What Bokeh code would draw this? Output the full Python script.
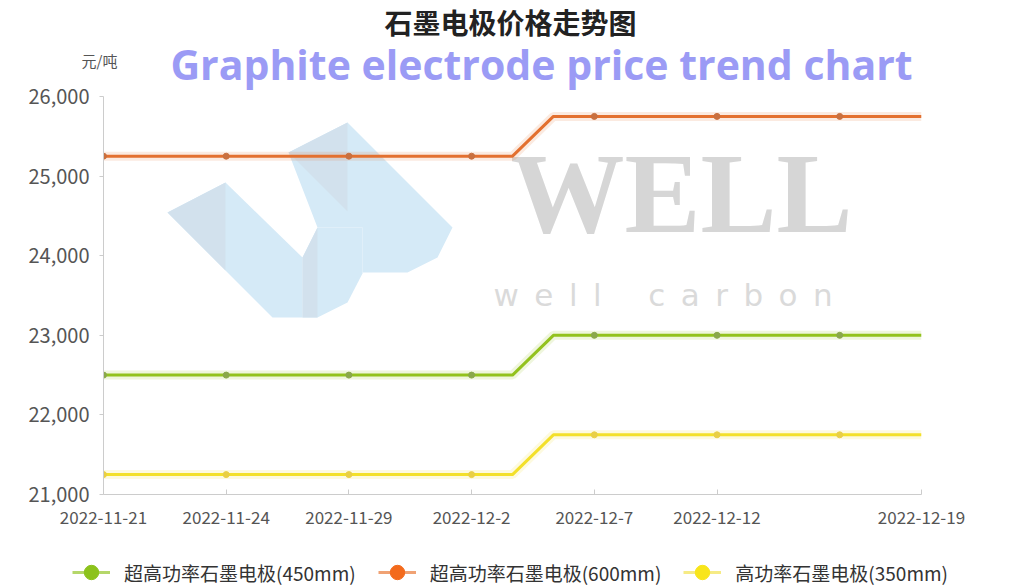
from bokeh.plotting import figure
from bokeh.layouts import column
from bokeh.models import Range1d, FixedTicker, Legend, LegendItem, NumeralTickFormatter
from bokeh.core.properties import value
from bokeh.embed import file_html
from bokeh.resources import INLINE

# ---------------- data ----------------
dates = ["2022-11-21", "2022-11-22", "2022-11-23", "2022-11-24", "2022-11-25",
         "2022-11-28", "2022-11-29", "2022-11-30", "2022-12-1", "2022-12-2",
         "2022-12-5", "2022-12-6", "2022-12-7", "2022-12-8", "2022-12-9",
         "2022-12-12", "2022-12-13", "2022-12-14", "2022-12-15", "2022-12-16",
         "2022-12-19"]
tick_labels = ["2022-11-21", "2022-11-24", "2022-11-29", "2022-12-2",
               "2022-12-7", "2022-12-12", "2022-12-19"]
marker_dates = ["2022-11-21", "2022-11-24", "2022-11-29", "2022-12-2",
                "2022-12-7", "2022-12-12", "2022-12-15"]

uhp450 = [22500, 22500, 22500, 22500, 22500, 22500, 22500, 22500, 22500, 22500,
          22500, 23000, 23000, 23000, 23000, 23000, 23000, 23000, 23000, 23000, 23000]
uhp600 = [25250, 25250, 25250, 25250, 25250, 25250, 25250, 25250, 25250, 25250,
          25250, 25750, 25750, 25750, 25750, 25750, 25750, 25750, 25750, 25750, 25750]
hp350 = [21250, 21250, 21250, 21250, 21250, 21250, 21250, 21250, 21250, 21250,
         21250, 21750, 21750, 21750, 21750, 21750, 21750, 21750, 21750, 21750, 21750]

series_names = ["超高功率石墨电极(450mm)", "超高功率石墨电极(600mm)", "高功率石墨电极(350mm)"]
series_values = [uhp450, uhp600, hp350]
line_colors = ["#93c21e", "#e3702f", "#f3e02a"]
dot_colors = ["#8aa84a", "#c9703f", "#e9cf45"]
legend_dot_colors = ["#8cc21c", "#f36a1c", "#f8e51a"]
legend_line_colors = ["#b5d76a", "#f0a274", "#f6eb86"]

y_ticks = [21000, 22000, 23000, 24000, 25000, 26000]
title_cn = "石墨电极价格走势图"
title_en = "Graphite electrode price trend chart"
unit_text = "元/吨"
wm_big = "WELL"
wm_small = "\u2002".join("well") + "\u2002\u2002\u2002" + "\u2002".join("carbon")

# ---------------- layout (pixels) ----------------
W = 1024
HEAD_H = 92
OVERLAP = 12
MAIN_TOP = HEAD_H - OVERLAP          # page y where main figure starts
MAIN_H = 460
FOOT_H = 45
FL, FR = 103, 921
FT, FB = 96 - MAIN_TOP, 494 - MAIN_TOP
n = len(dates)
xs = list(range(n))
y_min, y_max = y_ticks[0], y_ticks[-1]

# ---------------- header ----------------
head = figure(width=W, height=HEAD_H, output_backend="svg", toolbar_location=None,
              x_range=Range1d(0, W), y_range=Range1d(HEAD_H, 0), title=None,
              x_axis_location=None, y_axis_location=None, frame_align=False,
              min_border=0, outline_line_color=None)
head.grid.visible = False
head.text(x=[510], y=[21], text=[title_cn], text_font=value("Noto Sans CJK SC"),
          text_font_size="28px", text_font_style="bold", text_color="#222222",
          text_align="center", text_baseline="middle")
head.text(x=[99], y=[60], text=[unit_text], text_font=value("Noto Sans CJK SC"),
          text_font_size="15px", text_color="#555555",
          text_align="center", text_baseline="middle")
head.text(x=[541], y=[63], text=[title_en], text_font=value("Open Sans"),
          text_font_size="41px", text_font_style="bold", text_color="#9b9bf5",
          text_align="center", text_baseline="middle")

# ---------------- main chart ----------------
p = figure(width=W, height=MAIN_H, output_backend="svg", toolbar_location=None,
           x_range=Range1d(0, n - 1), y_range=Range1d(y_min, y_max), title=None,
           min_border_left=FL, min_border_right=W - FR,
           min_border_top=FT, min_border_bottom=MAIN_H - FB, frame_align=False,
           outline_line_color=None, background_fill_color="white",
           border_fill_alpha=0)
p.margin = (-OVERLAP, 0, 0, 0)
p.grid.visible = False


def px2x(px):
    return (px - FL) / (FR - FL) * (n - 1)


def py2y(py):
    # py in page pixels
    return y_max - (py - MAIN_TOP - FT) / (FB - FT) * (y_max - y_min)


p.xaxis.ticker = FixedTicker(ticks=[dates.index(d) for d in tick_labels])
p.xaxis.major_label_overrides = {dates.index(d): d for d in tick_labels}
p.xaxis.axis_line_color = "#cccccc"
p.xaxis.major_tick_line_color = "#cccccc"
p.xaxis.major_tick_in = 5
p.xaxis.major_tick_out = 0
p.xaxis.minor_tick_line_color = None
p.xaxis.major_label_standoff = 16
p.xaxis.major_label_text_font = "Noto Sans CJK SC"
p.xaxis.major_label_text_font_size = "17px"
p.xaxis.major_label_text_color = "#555555"

p.yaxis.ticker = FixedTicker(ticks=y_ticks)
p.yaxis.formatter = NumeralTickFormatter(format="0,0")
p.yaxis.axis_line_color = "#cccccc"
p.yaxis.major_tick_line_color = "#cccccc"
p.yaxis.major_tick_in = 0
p.yaxis.major_tick_out = 4
p.yaxis.minor_tick_line_color = None
p.yaxis.major_label_standoff = 10
p.yaxis.major_label_text_font = "Noto Sans CJK SC"
p.yaxis.major_label_text_font_size = "20px"
p.yaxis.major_label_text_color = "#555555"

# logo watermark (decorative, page pixel outline), drawn beneath the lines
logo_light = [[(167, 212), (225, 182), (302, 257), (302, 317), (272, 317)],
              [(288, 152), (347, 122), (452, 227), (437, 257), (407, 272), (362, 272), (362, 227), (317, 227)],
              [(302, 257), (317, 227), (362, 227), (362, 273), (347, 302), (317, 317), (302, 317)]]
logo_dark = [[(167, 212), (225, 182), (225, 270)],
             [(288, 152), (347, 122), (347, 211)],
             [(302, 257), (317, 227), (317, 317), (302, 317)]]
p.patches([[px2x(a) for a, b in poly] for poly in logo_light],
          [[py2y(b) for a, b in poly] for poly in logo_light],
          fill_color="#d5eaf7", line_color=None)
p.patches([[px2x(a) for a, b in poly] for poly in logo_dark],
          [[py2y(b) for a, b in poly] for poly in logo_dark],
          fill_color="#d2e1ed", line_color=None)

# watermark text
p.text(x=[px2x(681)], y=[py2y(193)], text=[wm_big], text_font=value("Liberation Serif"),
       text_font_size="114px", text_font_style="bold", text_color="#d6d6d6",
       text_align="center", text_baseline="middle")
p.text(x=[px2x(493)], y=[py2y(294)], text=[wm_small],
       text_font=value("DejaVu Sans"), text_font_size="31px", text_color="#dadada",
       text_align="left", text_baseline="middle")

# series lines
idx_markers = [dates.index(d) for d in marker_dates]
for vals, lc, dc in zip(series_values, line_colors, dot_colors):
    p.line(xs, vals, line_color=lc, line_width=9, line_alpha=0.15)
    p.line(xs, vals, line_color=lc, line_width=3)
    p.scatter([xs[i] for i in idx_markers], [vals[i] for i in idx_markers],
              size=6, fill_color=dc, line_color=dc)

# ---------------- footer with legend ----------------
foot = figure(width=W, height=FOOT_H, output_backend="svg", toolbar_location=None,
              x_range=Range1d(0, W), y_range=Range1d(0, FOOT_H), title=None,
              x_axis_location=None, y_axis_location=None, frame_align=False,
              min_border=0, outline_line_color=None)
foot.grid.visible = False
items = []
for name, llc, ldc in zip(series_names, legend_line_colors, legend_dot_colors):
    # legend-only renderers, their single point lies outside the visible range
    lr = foot.line(x=[-20, -10], y=[-20, -20], line_color=llc, line_width=3)
    sr = foot.scatter(x=[-20], y=[-20], size=14, fill_color=ldc, line_color=ldc)
    items.append(LegendItem(label=name, renderers=[lr, sr]))
legend = Legend(items=items, orientation="horizontal", location=(72, -5),
                glyph_width=38, glyph_height=36, label_standoff=14, spacing=22,
                padding=0, margin=0, border_line_color=None, background_fill_alpha=0,
                label_text_font="Noto Sans CJK SC", label_text_font_size="19px",
                label_text_color="#333333")
foot.add_layout(legend)

layout = column(head, p, foot, spacing=0)
open("out.html", "w").write(file_html(layout, INLINE))
